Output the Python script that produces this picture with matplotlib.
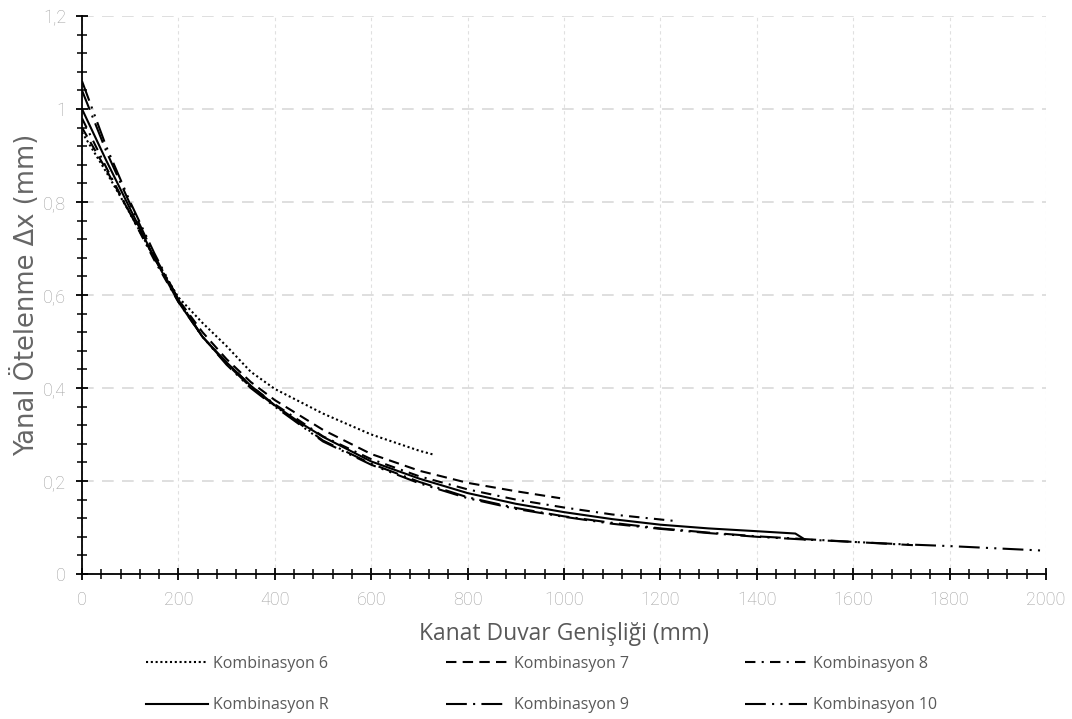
import numpy as np
import matplotlib
matplotlib.use("Agg")
import matplotlib.pyplot as plt
from matplotlib.ticker import MultipleLocator, FuncFormatter

# values
x6 = [0, 50, 100, 150, 200, 250, 300, 350, 400, 500, 600, 700, 732]
y6 = [0.95, 0.865, 0.775, 0.68, 0.595, 0.54, 0.49, 0.435, 0.398, 0.345, 0.300, 0.265, 0.256]

x7 = [0, 50, 100, 150, 200, 250, 300, 350, 400, 500, 600, 700, 800, 900, 992]
y7 = [0.96, 0.87, 0.775, 0.68, 0.59, 0.52, 0.462, 0.413, 0.374, 0.31, 0.258, 0.222, 0.196, 0.178, 0.163]

x8 = [0, 50, 100, 150, 200, 250, 300, 350, 400, 500, 600, 700, 800, 900, 1000, 1100, 1230]
y8 = [0.98, 0.875, 0.775, 0.675, 0.585, 0.51, 0.455, 0.405, 0.365, 0.296, 0.247, 0.21, 0.182, 0.16, 0.143, 0.128, 0.114]

xR = [0, 50, 100, 150, 200, 250, 300, 350, 400, 450, 500, 600, 700, 800, 900, 1000,
      1100, 1200, 1300, 1400, 1480, 1500]
yR = [1.0, 0.89, 0.785, 0.68, 0.585, 0.51, 0.455, 0.405, 0.363, 0.327, 0.295, 0.242, 0.205, 0.174, 0.151, 0.133,
      0.118, 0.106, 0.098, 0.092, 0.087, 0.074]

x9 = [0, 50, 100, 150, 200, 250, 300, 350, 400, 500, 600, 700, 800, 900, 1000,
      1100, 1200, 1300, 1400, 1500, 1600, 1724]
y9 = [1.04, 0.91, 0.795, 0.685, 0.59, 0.51, 0.452, 0.402, 0.362, 0.287, 0.237, 0.198, 0.165, 0.142, 0.124,
      0.11, 0.098, 0.089, 0.081, 0.075, 0.069, 0.062]

x10 = [0, 50, 100, 150, 200, 250, 300, 350, 400, 500, 600, 700, 800, 900, 1000,
       1100, 1200, 1300, 1400, 1500, 1600, 1700, 1800, 1900, 2000]
y10 = [1.06, 0.92, 0.80, 0.69, 0.59, 0.51, 0.45, 0.40, 0.36, 0.285, 0.235, 0.195, 0.163, 0.14, 0.123,
       0.108, 0.097, 0.088, 0.08, 0.074, 0.069, 0.064, 0.06, 0.055, 0.05]

fig = plt.figure(figsize=(10.72, 7.19), dpi=100)
ax = fig.add_axes([0.0765, 0.2017, 0.8992, 0.776])

lw = 1.5
h6, = ax.plot(x6, y6, color="black", lw=lw, ls=(0, (1, 1.3)), label="Kombinasyon 6")
h7, = ax.plot(x7, y7, color="black", lw=lw, ls=(0, (5, 3)), label="Kombinasyon 7")
h8, = ax.plot(x8, y8, color="black", lw=lw, ls=(0, (5, 3, 1, 3)), label="Kombinasyon 8")
hR, = ax.plot(xR, yR, color="black", lw=lw, ls="-", label="Kombinasyon R")
h9, = ax.plot(x9, y9, color="black", lw=lw, ls=(0, (10, 3, 1, 3)), label="Kombinasyon 9")
h10, = ax.plot(x10, y10, color="black", lw=lw, ls=(0, (10, 3, 1, 3, 1, 3)), label="Kombinasyon 10")

ax.set_xlim(0, 2000)
ax.set_ylim(0, 1.2)
ax.xaxis.set_major_locator(MultipleLocator(200))
ax.xaxis.set_minor_locator(MultipleLocator(40))
ax.yaxis.set_major_locator(MultipleLocator(0.2))
ax.yaxis.set_minor_locator(MultipleLocator(0.04))
ax.yaxis.set_major_formatter(FuncFormatter(lambda v, p: ("%g" % round(v, 2)).replace(".", ",")))

for s in ["top", "right"]:
    ax.spines[s].set_visible(False)
for s in ["left", "bottom"]:
    ax.spines[s].set_linewidth(1.3)

ax.tick_params(which="major", direction="inout", length=9, width=1.3, color="black",
               labelcolor="#a0a0a0", labelsize=13)
ax.tick_params(which="minor", direction="inout", length=7, width=1.1, color="black")
ax.tick_params(axis="x", which="major", pad=8)
ax.tick_params(axis="y", which="major", pad=7)
for lab in ax.get_xticklabels() + ax.get_yticklabels():
    lab.set_family("Roboto")
    lab.set_fontweight("light")

ax.grid(axis="y", which="major", color="#d9d9d9", lw=1.2, ls=(0, (7, 5)))
ax.grid(axis="x", which="major", color="#e0e0e0", lw=0.8, ls=(0, (3, 3)))
ax.set_axisbelow(True)

ax.set_xlabel("Kanat Duvar Genişliği (mm)", fontsize=16.5, color="#595959", family="Open Sans", labelpad=9)
ax.set_ylabel("Yanal Ötelenme Δx (mm)", fontsize=18.5, color="#666666", family="DejaVu Sans", labelpad=2)

# column-major order so rows read 6,7,8 / R,9,10
handles = [h6, hR, h7, h9, h8, h10]
leg = fig.legend(handles=handles, labels=[h.get_label() for h in handles], ncol=3,
                 loc="lower center", bbox_to_anchor=(0.505, -0.012), frameon=False,
                 prop={"family": "Open Sans", "size": 11.5}, handlelength=3.9,
                 columnspacing=7.3, labelspacing=1.6, handletextpad=0.35)
for t in leg.get_texts():
    t.set_color("#595959")

fig.savefig("out.png", dpi=100)
